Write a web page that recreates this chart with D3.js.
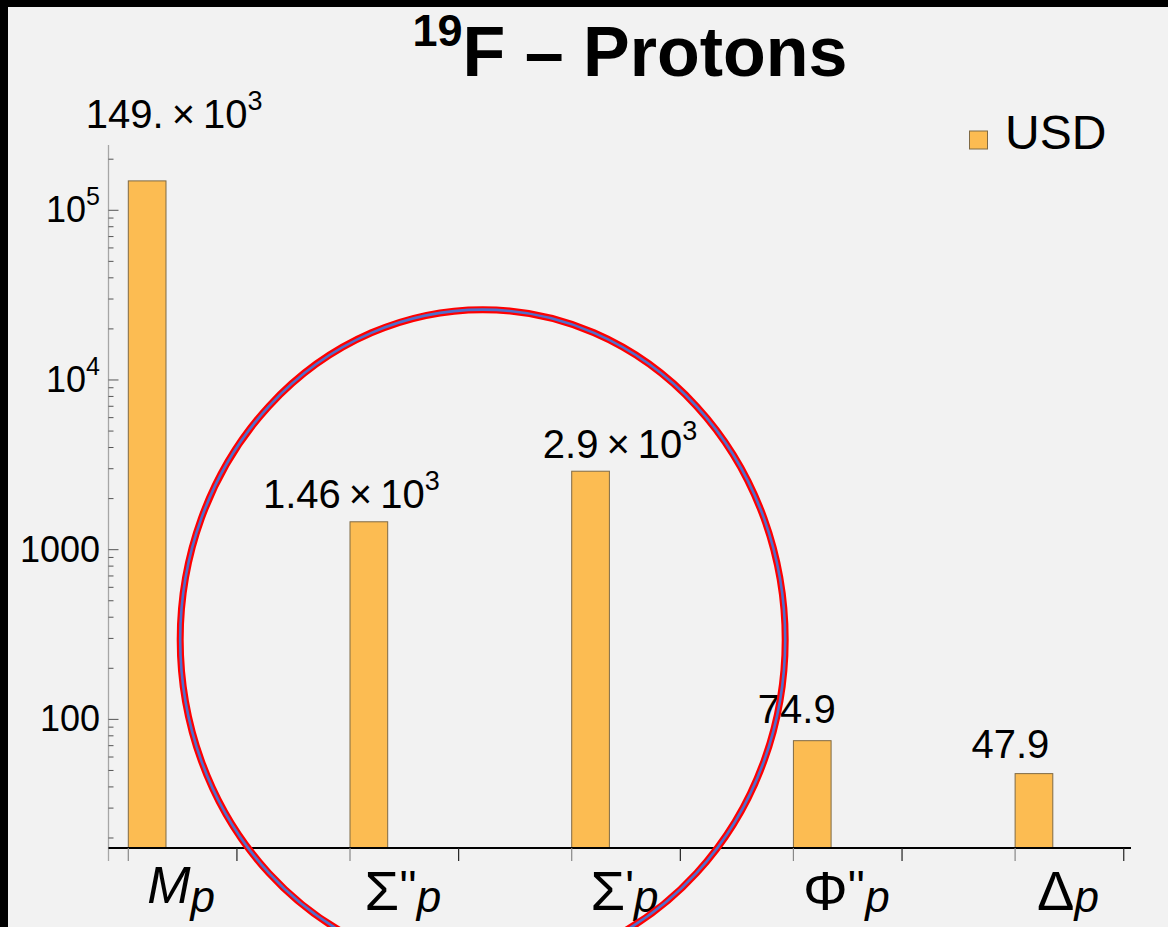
<!DOCTYPE html>
<html>
<head>
<meta charset="utf-8">
<script src="https://cdn.jsdelivr.net/npm/d3@7"></script>
<style>
  html, body { margin: 0; padding: 0; background: #f2f2f2; }
  svg { display: block; }
  text { font-family: "Liberation Sans", Arial, Helvetica, sans-serif; fill: #000; }
</style>
</head>
<body>
<svg id="chart" width="1168" height="927"></svg>
<script>
// ---- data ----
const categories = ["M", "Σ''", "Σ'", "Φ''", "Δ"];   // operator symbols, each with subscript p
const italicSymbol = [true, false, false, false, false];
const usdValues = [149000, 1460, 2900, 74.9, 47.9];
const seriesName = "USD";
const yMajorTicks = [100, 1000, 10000, 100000];
const yTickBase = ["100", "1000", "10", "10"];
const yTickSup = ["", "", "4", "5"];
const titleSup = "19";
const titleMain = "F – Protons";

// ---- layout ----
const W = 1168, H = 927;
const axisX = 108.5, plotTop = 145, axisY = 848, xAxisEnd = 1131;
const labelNudge = [[27, -53], [-17.5, -14], [29.5, -13.5], [-15.5, -17.5], [-23.5, -15.5]];
const barFill = "#fcbc52", barStroke = "#7f6a45";

const svg = d3.select("#chart");
svg.append("rect").attr("width", W).attr("height", H).attr("fill", "#f2f2f2");
svg.append("rect").attr("width", W).attr("height", 7).attr("fill", "#000");
svg.append("rect").attr("width", 8).attr("height", H).attr("fill", "#000");

const x = d3.scaleBand().domain(categories)
  .range([128.3, 1052.8]).paddingInner(0.83).paddingOuter(0).align(0);
const y = d3.scaleLog().domain([17.46, 242500]).range([axisY, plotTop]);
const step = x.step(), bw = x.bandwidth();

// ---- title ----
const title = svg.append("text").attr("x", 630).attr("y", 76)
  .attr("text-anchor", "middle").attr("font-weight", "bold");
title.append("tspan").attr("font-size", 45).attr("dy", -30).text(titleSup);
title.append("tspan").attr("font-size", 70).attr("dy", 30).text(titleMain);

// ---- bars ----
svg.append("g").selectAll("rect").data(usdValues).join("rect")
  .attr("x", (d, i) => x(categories[i]))
  .attr("width", bw)
  .attr("y", d => y(d))
  .attr("height", d => axisY - y(d))
  .attr("fill", barFill).attr("stroke", barStroke).attr("stroke-width", 1);

// ---- y axis (log) ----
const gy = svg.append("g");
gy.append("line").attr("x1", axisX).attr("x2", axisX).attr("y1", plotTop).attr("y2", 861)
  .attr("stroke", "#a6a6a6").attr("stroke-width", 1.3);
const allTicks = y.ticks().filter(v => v >= y.domain()[0] && v <= y.domain()[1]);
gy.selectAll("line.tk").data(allTicks).join("line").attr("class", "tk")
  .attr("x1", axisX).attr("x2", d => axisX + (yMajorTicks.includes(d) ? 10 : 5))
  .attr("y1", d => y(d)).attr("y2", d => y(d))
  .attr("stroke", "#555").attr("stroke-width", 1);
yMajorTicks.forEach((v, i) => {
  const t = gy.append("text").attr("x", 100).attr("y", y(v) + 12)
    .attr("text-anchor", "end").attr("font-size", 36);
  t.append("tspan").text(yTickBase[i]);
  if (yTickSup[i]) t.append("tspan").attr("font-size", 25).attr("dy", -17).text(yTickSup[i]);
});

// ---- x axis ----
const gx = svg.append("g");
gx.append("line").attr("x1", axisX).attr("x2", xAxisEnd).attr("y1", axisY).attr("y2", axisY)
  .attr("stroke", "#000").attr("stroke-width", 2);
categories.forEach(c => {
  gx.append("line").attr("x1", x(c)).attr("x2", x(c)).attr("y1", axisY).attr("y2", 861)
    .attr("stroke", "#888").attr("stroke-width", 1.2);
  const m = x(c) + step * 0.49;
  gx.append("line").attr("x1", m).attr("x2", m).attr("y1", axisY).attr("y2", 861)
    .attr("stroke", "#222").attr("stroke-width", 1.2);
});
categories.forEach((c, i) => {
  const t = gx.append("text").attr("x", x(c) + bw / 2 + 34).attr("y", 903)
    .attr("text-anchor", "middle");
  const sym = c[0], primes = c.slice(1);
  if (italicSymbol[i]) {
    t.append("tspan").attr("font-size", 52).attr("font-style", "italic").text(sym);
  } else {
    t.append("tspan").attr("font-size", 56).attr("dy", 7).text(sym);
  }
  let back = italicSymbol[i] ? 0 : -7;
  if (primes) {
    t.append("tspan").attr("font-size", 46).attr("dy", back).text(primes);
    back = 0;
  }
  t.append("tspan").attr("font-size", 44).attr("font-style", "italic").attr("dy", 9 + back).text("p");
});

// ---- value labels ----
function fmt(v) {
  if (v >= 1000) {
    const m = v / 1000;
    return { mant: m >= 100 ? m.toFixed(0) + "." : String(+m.toPrecision(3)), exp: "3" };
  }
  return { mant: String(v), exp: "" };
}
usdValues.forEach((v, i) => {
  const f = fmt(v);
  const t = svg.append("text")
    .attr("x", x(categories[i]) + bw / 2 + labelNudge[i][0])
    .attr("y", y(v) + labelNudge[i][1])
    .attr("text-anchor", "middle").attr("font-size", 40);
  t.append("tspan").text(f.exp ? f.mant + "\u2009×\u200910" : f.mant);
  if (f.exp) t.append("tspan").attr("font-size", 27).attr("dy", -18).text(f.exp);
});

// ---- legend ----
svg.append("rect").attr("x", 969.5).attr("y", 131).attr("width", 18).attr("height", 18)
  .attr("fill", barFill).attr("stroke", barStroke).attr("stroke-width", 1);
svg.append("text").attr("x", 1005).attr("y", 148.5).attr("font-size", 48).text(seriesName);

// ---- highlight ellipse around the two Σ bars ----
const ecx = (x(categories[1]) + x(categories[2]) + bw) / 2 + 3;
const ecy = y(295);
const ell = svg.append("g");
ell.append("ellipse").attr("cx", ecx).attr("cy", ecy).attr("rx", 302.5).attr("ry", 330)
  .attr("fill", "none").attr("stroke", "#ff0000").attr("stroke-width", 7);
ell.append("ellipse").attr("cx", ecx).attr("cy", ecy).attr("rx", 302.5).attr("ry", 330)
  .attr("fill", "none").attr("stroke", "#4f6fcc").attr("stroke-width", 2.6);
</script>
</body>
</html>
